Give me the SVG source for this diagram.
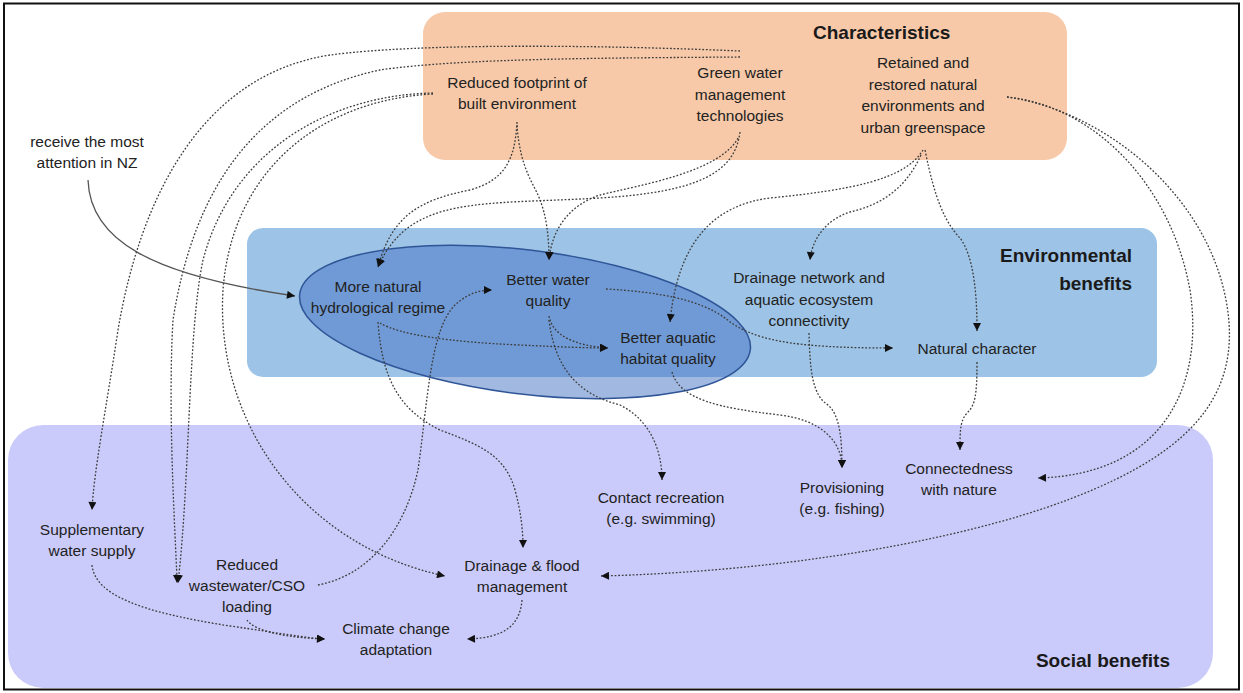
<svg xmlns="http://www.w3.org/2000/svg" width="1243" height="693" viewBox="0 0 1243 693">
<style>
.t{font-family:"Liberation Sans",Arial,sans-serif;font-size:15.5px;fill:#222;text-anchor:middle}
.h{font-family:"Liberation Sans",Arial,sans-serif;font-size:19px;font-weight:bold;fill:#1a1a1a}
.c{fill:none;stroke:#3c3c3c;stroke-width:1.3;stroke-dasharray:1.8 1.8;marker-end:url(#ah)}
.s{fill:none;stroke:#555;stroke-width:1.3;marker-end:url(#ah)}
</style>
<defs>
<marker id="ah" viewBox="0 0 10 10" refX="10" refY="5" markerWidth="9" markerHeight="8" markerUnits="userSpaceOnUse" orient="auto"><path d="M0,0 L10,5 L0,10 z" fill="#111"/></marker>
</defs>
<rect x="4" y="3.5" width="1235" height="686" fill="#fff" stroke="#111" stroke-width="2"/>
<g id="characteristics">
<rect x="423" y="12" width="644" height="148" rx="22" fill="#F7C9A8"/>
<text class="h" x="813" y="39">Characteristics</text>
</g>
<g id="environmental">
<rect x="247" y="228" width="910" height="149" rx="16" fill="#9DC3E6"/>
<text class="h" x="1132" y="262" text-anchor="end">Environmental</text>
<text class="h" x="1132" y="290" text-anchor="end">benefits</text>
</g>
<g id="social">
<rect x="8" y="425" width="1205" height="263" rx="35" fill="#CBCBFB"/>
<text class="h" x="1170" y="667" text-anchor="end">Social benefits</text>
</g>
<g id="focus-ellipse">
<ellipse cx="525" cy="322" rx="227" ry="72" transform="rotate(7 525 322)" fill="#4472C4" fill-opacity="0.5" stroke="#2F5597" stroke-width="1.5"/>
</g>
<g id="connectors">
<path class="c" d="M740,51 C600,45 420,43 330,55 C200,75 140,200 118,330 C106,410 94,470 92,510"/>
<path class="c" d="M740,57 C620,58 460,58 380,70 C262,95 195,180 173,320 C167,420 177,560 177,583"/>
<path class="c" d="M433,93 C330,95 232,150 203,260 C188,330 190,480 178,583"/>
<path class="c" d="M433,94 C320,100 232,170 223,290 C215,420 300,545 445,576"/>
<path class="c" d="M517,122 C515,160 505,180 470,190 C420,200 392,215 378,267"/>
<path class="c" d="M740,132 C735,172 700,192 600,198 C480,205 410,195 378,267"/>
<path class="c" d="M517,125 C520,170 535,185 540,200 C546,215 549,235 549,260"/>
<path class="c" d="M738,138 C720,172 640,185 600,195 C570,205 552,228 549,260"/>
<path class="c" d="M923,150 C905,180 850,190 770,198 C715,205 678,240 670,322"/>
<path class="c" d="M921,155 C905,190 880,205 850,212 C825,220 812,240 810,260"/>
<path class="c" d="M925,150 C935,200 945,222 960,238 C975,258 977,300 977,331"/>
<path class="c" d="M1007,97 C1090,105 1170,180 1190,290 C1205,390 1160,475 1038,478"/>
<path class="c" d="M1007,97 C1100,110 1205,190 1226,300 C1245,400 1185,460 1045,508 C925,548 760,572 601,576"/>
<path class="c" d="M606,289 C660,292 700,300 725,318 C752,340 790,348 893,348"/>
<path class="c" d="M380,323 C400,335 450,342 520,345 C560,347 590,348 608,348"/>
<path class="c" d="M549,316 C552,335 575,346 608,348"/>
<path class="c" d="M549,320 C555,370 580,395 620,405 C650,420 662,450 662,480"/>
<path class="c" d="M378,322 C382,380 400,410 440,430 C480,445 505,455 515,490 C521,512 523,530 523,548"/>
<path class="c" d="M318,585 C370,575 405,530 418,470 C428,400 430,330 455,305 C468,293 480,290 492,290"/>
<path class="c" d="M672,372 C680,400 720,408 780,415 C820,420 842,440 842,468"/>
<path class="c" d="M809,333 C810,370 812,395 828,405 C840,415 842,440 842,468"/>
<path class="c" d="M977,362 C977,395 975,405 968,412 C960,420 960,430 960,450"/>
<path class="c" d="M92,565 C95,595 140,612 230,626 C280,633 305,638 325,639"/>
<path class="c" d="M247,620 C255,632 290,638 325,639"/>
<path class="c" d="M522,600 C520,625 505,638 467,639"/>
<path class="s" d="M88,180 C90,240 150,275 295,296"/>
</g>
<g id="note"><text class="t" x="87" y="147">receive the most</text><text class="t" x="87" y="168">attention in NZ</text></g>
<g id="reduced-footprint"><text class="t" x="517" y="88">Reduced footprint of</text><text class="t" x="517" y="109">built environment</text></g>
<g id="green-water"><text class="t" x="740" y="78">Green water</text><text class="t" x="740" y="99.5">management</text><text class="t" x="740" y="121">technologies</text></g>
<g id="retained"><text class="t" x="923" y="68">Retained and</text><text class="t" x="923" y="89.5">restored natural</text><text class="t" x="923" y="111">environments and</text><text class="t" x="923" y="132.5">urban greenspace</text></g>
<g id="more-natural"><text class="t" x="378" y="292">More natural</text><text class="t" x="378" y="313">hydrological regime</text></g>
<g id="better-water"><text class="t" x="548" y="285">Better water</text><text class="t" x="548" y="306">quality</text></g>
<g id="better-aquatic"><text class="t" x="668" y="343">Better aquatic</text><text class="t" x="668" y="364">habitat quality</text></g>
<g id="drainage-network"><text class="t" x="809" y="283">Drainage network and</text><text class="t" x="809" y="304.5">aquatic ecosystem</text><text class="t" x="809" y="326">connectivity</text></g>
<g id="natural-character"><text class="t" x="977" y="354">Natural character</text></g>
<g id="contact-recreation"><text class="t" x="661" y="503">Contact recreation</text><text class="t" x="661" y="524">(e.g. swimming)</text></g>
<g id="provisioning"><text class="t" x="842" y="493">Provisioning</text><text class="t" x="842" y="514">(e.g. fishing)</text></g>
<g id="connectedness"><text class="t" x="959" y="474">Connectedness</text><text class="t" x="959" y="495">with nature</text></g>
<g id="supplementary"><text class="t" x="92" y="535">Supplementary</text><text class="t" x="92" y="556">water supply</text></g>
<g id="reduced-wastewater"><text class="t" x="247" y="570">Reduced</text><text class="t" x="247" y="591">wastewater/CSO</text><text class="t" x="247" y="612">loading</text></g>
<g id="drainage-flood"><text class="t" x="522" y="571">Drainage &amp; flood</text><text class="t" x="522" y="592">management</text></g>
<g id="climate"><text class="t" x="396" y="634">Climate change</text><text class="t" x="396" y="655">adaptation</text></g>
</svg>
